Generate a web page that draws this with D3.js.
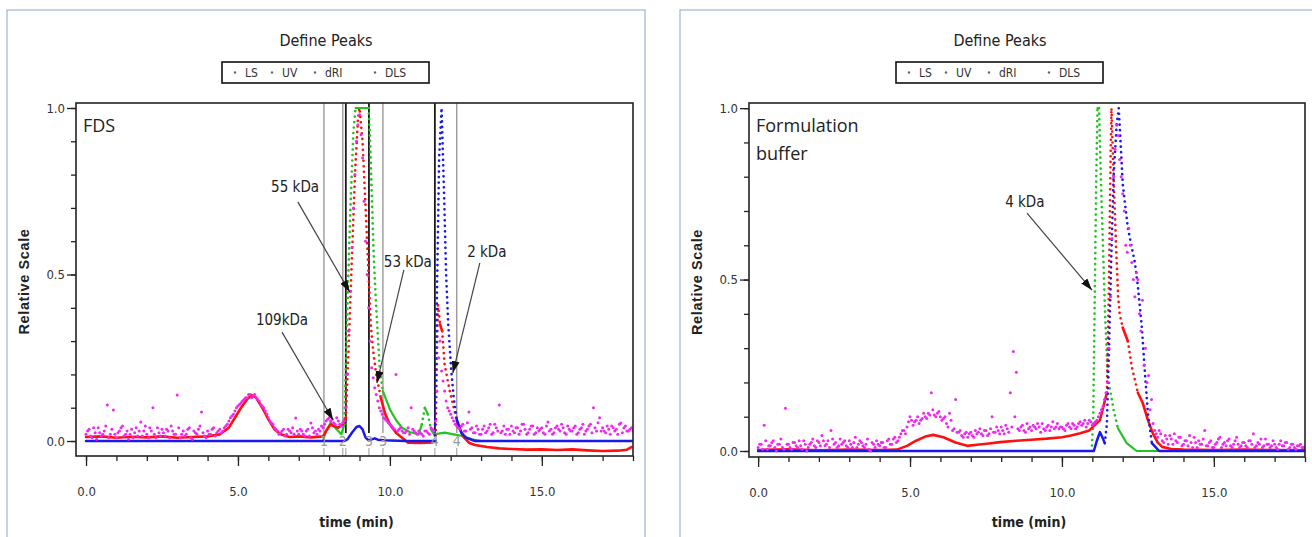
<!DOCTYPE html>
<html>
<head>
<meta charset="utf-8">
<script src="https://cdn.jsdelivr.net/npm/d3@7"></script>
<style>
  body { margin: 0; background: #fff; }
  svg { display: block; }
</style>
</head>
<body>
<svg id="chart" width="1312" height="537"></svg>
<script>
// ---- data: [time (min), relative scale] ----
const seriesNames = ["LS", "UV", "dRI", "DLS"];

// left panel: FDS
const lsL = [[0,0.012],[0.5,0.014],[1,0.01],[1.5,0.013],[2,0.011],[2.5,0.014],[3,0.01],[3.5,0.012],[4,0.014],[4.4,0.02],
  [4.7,0.04],[4.9,0.07],[5.1,0.1],[5.3,0.125],[5.45,0.138],[5.6,0.13],[5.8,0.1],[6.0,0.065],[6.2,0.035],[6.4,0.02],
  [6.7,0.012],[7,0.014],[7.4,0.011],[7.8,0.014],[7.9,0.03],[8.05,0.05],[8.15,0.045],[8.3,0.04],[8.45,0.05],[8.55,0.07],
  [8.65,0.3],[8.75,0.55],[8.85,0.8],[8.95,0.97],[9.0,1.0],[9.1,0.9],[9.2,0.7],[9.3,0.5],[9.37,0.35],[9.45,0.27],
  [9.55,0.2],[9.7,0.13],[9.85,0.08],[10.0,0.05],[10.2,0.025],[10.4,0.01],[10.6,-0.005],[11.0,-0.006],[11.4,-0.004],[11.5,0.0],
  [11.58,0.41],[11.65,0.35],[11.72,0.33],[11.8,0.23],[11.97,0.15],[12.1,0.1],[12.2,0.06],[12.4,0.015],[12.6,-0.005],[12.8,-0.012],
  [13.2,-0.018],[13.6,-0.022],[14,-0.024],[14.5,-0.026],[15,-0.025],[15.5,-0.027],[16,-0.025],[16.5,-0.028],[17,-0.03],[17.5,-0.029],
  [17.8,-0.026],[17.95,-0.018]];
const uvL = [[0,0],[7.8,0],[7.9,0.03],[8.05,0.055],[8.2,0.04],[8.4,0.02],[8.5,0.05],[8.6,0.4],[8.7,0.7],[8.8,0.93],
  [8.87,1.0],[9.3,1.0],[9.35,0.9],[9.4,0.75],[9.47,0.55],[9.55,0.4],[9.67,0.21],[9.77,0.15],[10.0,0.095],[10.2,0.063],
  [10.4,0.04],[10.65,0.027],[10.95,0.02],[11.05,0.05],[11.15,0.1],[11.25,0.08],[11.35,0.035],[11.45,0.02],[11.8,0.025],[12.1,0.02],
  [12.4,0.015],[12.7,0.005],[13,0],[18,0]];
const riL = [[0,0],[8.5,0],[8.6,0.005],[8.75,0.025],[8.9,0.042],[9.0,0.045],[9.1,0.035],[9.2,0.01],[9.3,0.002],[9.5,0.008],
  [9.6,0.004],[9.8,0.002],[10.5,0],[11.48,0],[11.55,0.45],[11.62,0.85],[11.7,1.0],[11.78,0.75],[11.85,0.5],[11.92,0.35],
  [12.02,0.21],[12.1,0.13],[12.2,0.065],[12.35,0.025],[12.5,0.01],[12.8,0],[18,0]];
// DLS sampled every 0.1 min from 0 to 18 ...
const dlsL = [
  0.02,0.035,0.01,0.025,0.04,0.015,0.03,0.108,0.02,0.093,
  0.01,0.03,0.045,0.02,0.005,0.035,0.025,0.015,0.057,0.03,
  0.02,0.04,0.1,0.01,0.025,0.035,0.015,0.03,0.045,0.02,
  0.138,0.01,0.03,0.02,0.04,0.005,0.025,0.035,0.087,0.015,
  0.03,0.02,0.04,0.025,0.035,0.03,0.045,0.06,0.075,0.09,
  0.105,0.115,0.125,0.13,0.14,0.135,0.13,0.12,0.105,0.09,
  0.07,0.055,0.04,0.03,0.025,0.035,0.02,0.03,0.04,0.069,
  0.02,0.03,0.015,0.035,0.054,0.025,0.02,0.03,0.04,0.06,
  0.07,0.065,0.05,0.06,0.045,0.06,0.2,0.45,0.7,0.9,
  0.98,0.85,0.6,0.4,0.22,0.16,0.12,0.09,0.07,0.06,
  0.05,0.04,0.2,0.035,0.03,0.025,0.04,0.1,0.03,0.02,
  0.025,0.015,0.03,0.02,0.035,0.06,0.25,0.21,0.15,0.1,
  0.08,0.06,0.045,0.035,0.05,0.03,0.087,0.04,0.025,0.035,
  0.02,0.045,0.03,0.05,0.025,0.04,0.108,0.03,0.02,0.035,
  0.045,0.025,0.04,0.03,0.05,0.02,0.035,0.045,0.025,0.03,
  0.04,0.02,0.057,0.035,0.025,0.045,0.03,0.04,0.02,0.035,
  0.03,0.045,0.025,0.04,0.02,0.035,0.05,0.1,0.03,0.07,
  0.04,0.025,0.035,0.045,0.03,0.02,0.054,0.04,0.03,0.035,
  0.03];
// ... and the in-between samples at 0.05, 0.15, ... 17.95
const dlsL2 = [
  0.03,0.015,0.04,0.005,0.025,0.02,0.045,0.01,0.035,0.02,
  0.025,0.04,0.015,0.03,0.02,0.01,0.04,0.03,0.015,0.045,
  0.01,0.03,0.02,0.04,0.015,0.025,0.035,0.01,0.03,0.02,
  0.04,0.02,0.015,0.035,0.01,0.03,0.02,0.045,0.025,0.01,
  0.02,0.035,0.015,0.03,0.025,0.04,0.05,0.07,0.08,0.1,
  0.11,0.12,0.13,0.14,0.13,0.14,0.125,0.11,0.1,0.08,
  0.06,0.05,0.035,0.02,0.03,0.015,0.035,0.025,0.02,0.03,
  0.035,0.02,0.03,0.015,0.04,0.03,0.035,0.045,0.05,0.065,
  0.06,0.055,0.07,0.05,0.055,0.1,0.33,0.58,0.8,0.95,
  0.92,0.72,0.5,0.3,0.19,0.14,0.1,0.08,0.065,0.055,
  0.045,0.035,0.03,0.04,0.025,0.03,0.02,0.035,0.025,0.03,
  0.02,0.03,0.025,0.04,0.03,0.15,0.3,0.18,0.12,0.09,
  0.07,0.05,0.04,0.045,0.03,0.055,0.035,0.025,0.045,0.02,
  0.035,0.025,0.04,0.02,0.05,0.03,0.025,0.045,0.035,0.02,
  0.03,0.04,0.02,0.05,0.035,0.025,0.045,0.02,0.04,0.035,
  0.025,0.045,0.03,0.02,0.04,0.035,0.05,0.025,0.045,0.03,
  0.04,0.02,0.035,0.05,0.03,0.045,0.025,0.04,0.055,0.03,
  0.03,0.045,0.02,0.04,0.035,0.05,0.025,0.045,0.03,0.04];
const peakBoundsL = [7.83, 8.45, 8.55, 9.31, 9.77, 11.48, 12.2];
const peakBoundIsStart = [false, false, true, true, false, true, false];
const peakMarkT = [7.83, 8.45, 9.31, 9.77, 11.48, 12.2];
const peakMarkLabel = ["1", "2", "3", "3", "4", "4"];
const notesL = [
  { text: "55 kDa", at: [6.88, 0.763], from: [6.97, 0.718], to: [8.68, 0.447] },
  { text: "109kDa", at: [6.45, 0.363], from: [6.45, 0.327], to: [8.13, 0.063] },
  { text: "53 kDa", at: [10.59, 0.538], from: [10.46, 0.514], to: [9.57, 0.174] },
  { text: "2 kDa", at: [13.19, 0.568], from: [12.96, 0.535], to: [12.07, 0.204] }
];

// right panel: Formulation buffer
const lsR = [[0,0.003],[1,0.005],[2,0.002],[3,0.004],[4,0.003],[4.57,0.004],[4.9,0.015],[5.2,0.03],[5.5,0.042],[5.76,0.047],
  [6.1,0.04],[6.5,0.025],[6.88,0.015],[7.2,0.018],[7.6,0.022],[7.96,0.026],[8.5,0.03],[9,0.033],[9.5,0.036],[10,0.04],
  [10.3,0.045],[10.6,0.052],[10.9,0.06],[11.25,0.09],[11.48,0.17],[11.55,0.5],[11.6,0.85],[11.63,1.0],[11.7,0.8],[11.78,0.6],
  [11.85,0.45],[11.9,0.4],[12.0,0.36],[12.17,0.32],[12.3,0.245],[12.5,0.17],[12.66,0.14],[12.83,0.09],[13.0,0.05],[13.15,0.025],
  [13.3,0.012],[13.6,0.006],[14,0.004],[15,0.003],[16,0.004],[17,0.003],[18,0.002]];
const uvR = [[0,0],[10.98,0],[11.03,0.1],[11.08,0.45],[11.13,0.8],[11.17,1.0],[11.22,1.0],[11.28,0.8],[11.35,0.6],[11.42,0.4],
  [11.5,0.23],[11.58,0.18],[11.7,0.12],[11.84,0.067],[12.13,0.023],[12.46,0],[18,0]];
const riR = [[0,0],[11.05,0],[11.15,0.03],[11.25,0.055],[11.33,0.04],[11.41,0.023],[11.48,0.08],[11.55,0.3],[11.62,0.55],[11.7,0.8],
  [11.8,0.95],[11.87,1.0],[11.93,0.9],[12.0,0.78],[12.17,0.65],[12.4,0.55],[12.5,0.48],[12.63,0.36],[12.73,0.23],[12.83,0.11],
  [12.96,0.023],[13.2,0],[18,0]];
const dlsR = [
  0.01,0.02,0.075,0.005,0.015,0.03,0.0,0.02,0.01,0.125,
  0.02,0.005,0.025,0.01,0.015,0.03,0.0,0.02,0.035,0.01,
  0.025,0.045,0.015,0.03,0.06,0.02,0.01,0.035,0.025,0.015,
  0.03,0.01,0.04,0.02,0.025,0.01,0.035,0.0,0.02,0.03,
  0.015,0.025,0.01,0.035,0.02,0.04,0.03,0.05,0.06,0.07,
  0.1,0.075,0.09,0.08,0.095,0.1,0.11,0.17,0.105,0.11,
  0.1,0.095,0.08,0.11,0.06,0.15,0.055,0.045,0.05,0.04,
  0.055,0.04,0.05,0.065,0.045,0.06,0.05,0.1,0.055,0.06,
  0.07,0.05,0.065,0.17,0.29,0.23,0.06,0.075,0.055,0.065,
  0.06,0.07,0.08,0.055,0.065,0.07,0.06,0.085,0.07,0.065,
  0.07,0.06,0.08,0.065,0.075,0.07,0.085,0.08,0.07,0.09,
  0.075,0.085,0.1,0.12,0.15,0.2,0.45,0.8,0.95,0.85,
  0.75,0.6,0.65,0.55,0.45,0.5,0.35,0.25,0.2,0.12,
  0.08,0.05,0.06,0.03,0.045,0.02,0.035,0.05,0.025,0.04,
  0.02,0.03,0.045,0.01,0.025,0.03,0.02,0.06,0.015,0.03,
  0.01,0.025,0.04,0.02,0.015,0.035,0.01,0.03,0.02,0.015,
  0.025,0.01,0.03,0.05,0.015,0.02,0.01,0.035,0.02,0.015,
  0.02,0.005,0.03,0.015,0.025,0.01,0.02,0.005,0.015,0.01,
  0.01];
const dlsR2 = [
  0.02,0.005,0.03,0.015,0.025,0.01,0.02,0.035,0.005,0.02,
  0.01,0.025,0.015,0.03,0.005,0.02,0.01,0.025,0.015,0.03,
  0.015,0.03,0.02,0.01,0.035,0.025,0.015,0.02,0.03,0.01,
  0.02,0.025,0.01,0.03,0.015,0.02,0.005,0.025,0.01,0.02,
  0.025,0.01,0.03,0.02,0.035,0.025,0.04,0.06,0.05,0.085,
  0.09,0.085,0.1,0.09,0.11,0.095,0.105,0.12,0.1,0.115,
  0.09,0.1,0.07,0.09,0.065,0.055,0.06,0.04,0.055,0.05,
  0.045,0.06,0.055,0.05,0.06,0.045,0.065,0.055,0.07,0.05,
  0.06,0.075,0.055,0.07,0.1,0.065,0.07,0.06,0.08,0.07,
  0.075,0.065,0.07,0.08,0.06,0.075,0.07,0.065,0.08,0.07,
  0.065,0.075,0.07,0.08,0.065,0.08,0.075,0.09,0.08,0.085,
  0.08,0.09,0.11,0.13,0.17,0.3,0.62,0.88,0.92,0.8,
  0.7,0.58,0.6,0.5,0.52,0.4,0.44,0.3,0.22,0.15,
  0.06,0.04,0.05,0.025,0.035,0.045,0.02,0.03,0.04,0.015,
  0.03,0.015,0.025,0.04,0.01,0.02,0.035,0.015,0.025,0.01,
  0.02,0.035,0.01,0.025,0.03,0.015,0.02,0.04,0.01,0.025,
  0.015,0.03,0.02,0.01,0.025,0.035,0.015,0.02,0.01,0.03,
  0.01,0.02,0.015,0.025,0.005,0.02,0.01,0.015,0.02,0.01];
const notesR = [
  { text: "4 kDa", at: [8.78, 0.726], from: [8.85, 0.694], to: [10.99, 0.469] }
];

const xMajor = [0, 5, 10, 15];
const yMajor = [0, 0.5, 1.0];

// ---- layout ----
const colors = { LS: "#ff1010", UV: "#22c422", dRI: "#1818f0", DLS: "#f028f0" };
const narrow = "'Liberation Sans Narrow', 'DejaVu Sans Condensed', sans-serif";
const svg = d3.select("#chart");

const panels = [
  { box: [7, 10, 638, 560], frame: [76, 103, 633, 456], xd: [-0.33, 18], yd: [-0.045, 1.015],
    title: "Define Peaks", legendX: 222, tag: ["FDS"],
    ls: lsL, uv: uvL, ri: riL, dls: dlsL, dls2: dlsL2, notes: notesL, bounds: true },
  { box: [680, 10, 650, 560], frame: [749, 103, 1305, 457], xd: [-0.3, 18], yd: [-0.0175, 1.015],
    title: "Define Peaks", legendX: 896, tag: ["Formulation", "buffer"],
    ls: lsR, uv: uvR, ri: riR, dls: dlsR, dls2: dlsR2, notes: notesR, bounds: false }
];

svg.append("defs").append("marker")
  .attr("id", "arrow").attr("viewBox", "0 0 12 8").attr("refX", 12).attr("refY", 4)
  .attr("markerWidth", 12).attr("markerHeight", 8).attr("markerUnits", "userSpaceOnUse")
  .attr("orient", "auto")
  .append("path").attr("d", "M0,0 L12,4 L0,8 Z").attr("fill", "#111");

function drawTrace(g, pts, sx, sy, color, w) {
  // steep stretches look dotted in the original (sparse samples), flat ones solid
  const runs = [];
  d3.pairs(pts).forEach(([a, b]) => {
    const dx = sx(b[0]) - sx(a[0]), dy = sy(b[1]) - sy(a[1]);
    const steep = Math.abs(dy) > 4 * Math.abs(dx) && Math.abs(dy) > 8;
    const last = runs[runs.length - 1];
    if (last && last.steep === steep) last.pts.push(b);
    else runs.push({ steep: steep, pts: [a, b] });
  });
  const line = d3.line().x(d => sx(d[0])).y(d => sy(d[1]));
  g.selectAll(null).data(runs).join("path")
    .attr("d", d => line(d.pts))
    .attr("fill", "none")
    .attr("stroke", color)
    .attr("stroke-width", d => d.steep ? 2.7 : w)
    .attr("stroke-dasharray", d => d.steep ? "0 5.5" : null)
    .attr("stroke-linecap", "round")
    .attr("stroke-linejoin", "round");
}

panels.forEach((p, pi) => {
  const [fx0, fy0, fx1, fy1] = p.frame;
  const x = d3.scaleLinear().domain(p.xd).range([fx0, fx1]);
  const y = d3.scaleLinear().domain(p.yd).range([fy1, fy0]);
  const g = svg.append("g");

  g.append("rect").attr("x", p.box[0]).attr("y", p.box[1]).attr("width", p.box[2]).attr("height", p.box[3])
    .attr("fill", "#fff").attr("stroke", "#9fb5cb").attr("stroke-width", 1.2);

  const cx = (fx0 + fx1) / 2 + 1;
  g.append("text").attr("x", p.legendX + 104).attr("y", 46).attr("text-anchor", "middle")
    .attr("font-family", narrow).attr("font-size", 16).attr("fill", "#222").text(p.title);

  // legend
  const lg = g.append("g").attr("transform", `translate(${p.legendX},62)`);
  lg.append("rect").attr("width", 207).attr("height", 21).attr("fill", "#fff")
    .attr("stroke", "#111").attr("stroke-width", 1.6);
  const dotX = [13, 50, 93, 153];
  seriesNames.forEach((n, i) => {
    lg.append("circle").attr("cx", dotX[i]).attr("cy", 10.5).attr("r", 1.2).attr("fill", "#666");
    lg.append("text").attr("x", dotX[i] + 10).attr("y", 15).attr("font-family", narrow)
      .attr("font-size", 12).attr("fill", "#333").text(n);
  });

  // axes
  const xAxisMinor = d3.axisBottom(x).tickValues(d3.range(0, 19)).tickSize(5).tickFormat("");
  const xAxisMajor = d3.axisBottom(x).tickValues(xMajor).tickSize(10).tickPadding(21).tickFormat(d3.format(".1f"));
  const yAxisMinor = d3.axisLeft(y).tickValues(d3.range(0, 11).map(d => d / 10)).tickSize(5).tickFormat("");
  const yAxisMajor = d3.axisLeft(y).tickValues(yMajor).tickSize(9).tickPadding(2).tickFormat(d3.format(".1f"));
  [xAxisMinor, xAxisMajor].forEach(a => {
    g.append("g").attr("transform", `translate(0,${fy1})`).call(a)
      .call(s => s.select(".domain").remove())
      .call(s => s.selectAll("line").attr("stroke", "#222").attr("stroke-width", 1.3))
      .call(s => s.selectAll("text").attr("font-family", narrow).attr("font-size", 13).attr("fill", "#333"));
  });
  [yAxisMinor, yAxisMajor].forEach(a => {
    g.append("g").attr("transform", `translate(${fx0},0)`).call(a)
      .call(s => s.select(".domain").remove())
      .call(s => s.selectAll("line").attr("stroke", "#222").attr("stroke-width", 1.3))
      .call(s => s.selectAll("text").attr("font-family", narrow).attr("font-size", 13).attr("fill", "#333"));
  });

  g.append("text").attr("x", cx + 1).attr("y", 527).attr("text-anchor", "middle")
    .attr("font-family", narrow).attr("font-weight", "bold").attr("font-size", 14).attr("fill", "#222")
    .text("time (min)");
  const ylx = fx0 - 47, yly = (fy0 + fy1) / 2 + 2;
  g.append("text").attr("transform", `translate(${ylx},${yly}) rotate(-90)`).attr("text-anchor", "middle")
    .attr("font-family", "'Liberation Sans', Arial, sans-serif").attr("font-weight", "bold")
    .attr("font-size", 14.5).attr("letter-spacing", 0.6).attr("fill", "#222").text("Relative Scale");

  // plot
  const clipId = "clip" + pi;
  g.append("clipPath").attr("id", clipId).append("rect")
    .attr("x", fx0).attr("y", fy0).attr("width", fx1 - fx0).attr("height", fy1 - fy0);
  const plot = g.append("g").attr("clip-path", `url(#${clipId})`);

  if (p.bounds) {
    plot.selectAll(null).data(peakBoundsL).join("line")
      .attr("x1", d => x(d)).attr("x2", d => x(d)).attr("y1", fy0).attr("y2", y(0) - 8)
      .attr("stroke", (d, i) => peakBoundIsStart[i] ? "#1a1a1a" : "#9a9a9a")
      .attr("stroke-width", (d, i) => peakBoundIsStart[i] ? 1.8 : 1.4);
    plot.selectAll(null).data(peakBoundsL).join("line")
      .attr("x1", d => x(d)).attr("x2", d => x(d)).attr("y1", y(0) + 7).attr("y2", fy1)
      .attr("stroke", "#999").attr("stroke-width", 1);
  }

  drawTrace(plot, p.uv, x, y, colors.UV, 2.2);
  drawTrace(plot, p.ls, x, y, colors.LS, 2.6);
  drawTrace(plot, p.ri, x, y, colors.dRI, 2.5);
  plot.selectAll(null).data(p.dls).join("circle")
    .attr("cx", (d, i) => x(i / 10)).attr("cy", d => y(d)).attr("r", 1.5)
    .attr("fill", colors.DLS);
  plot.selectAll(null).data(p.dls2).join("circle")
    .attr("cx", (d, i) => x(0.05 + i / 10)).attr("cy", d => y(d)).attr("r", 1.5)
    .attr("fill", colors.DLS);

  if (p.bounds) {
    plot.selectAll(null).data(peakMarkT).join("text")
      .attr("x", d => x(d)).attr("y", y(0) + 5).attr("text-anchor", "middle")
      .attr("font-family", narrow).attr("font-size", 14).attr("fill", "#999")
      .text((d, i) => peakMarkLabel[i]);
  }

  g.append("rect").attr("x", fx0).attr("y", fy0).attr("width", fx1 - fx0).attr("height", fy1 - fy0)
    .attr("fill", "none").attr("stroke", "#222").attr("stroke-width", 1.6);

  // tag text
  g.selectAll(null).data(p.tag).join("text")
    .attr("x", fx0 + 7).attr("y", (d, i) => 132 + i * 28)
    .attr("font-family", "'Open Sans', sans-serif").attr("font-size", 18).attr("fill", "#222")
    .text(d => d);

  // annotations
  p.notes.forEach(n => {
    g.append("line").attr("x1", x(n.from[0])).attr("y1", y(n.from[1]))
      .attr("x2", x(n.to[0])).attr("y2", y(n.to[1]))
      .attr("stroke", "#444").attr("stroke-width", 1.2).attr("marker-end", "url(#arrow)");
    g.append("text").attr("x", x(n.at[0])).attr("y", y(n.at[1]) + 5).attr("text-anchor", "middle")
      .attr("font-family", narrow).attr("font-size", 15).attr("fill", "#222").text(n.text);
  });
});
</script>
</body>
</html>
